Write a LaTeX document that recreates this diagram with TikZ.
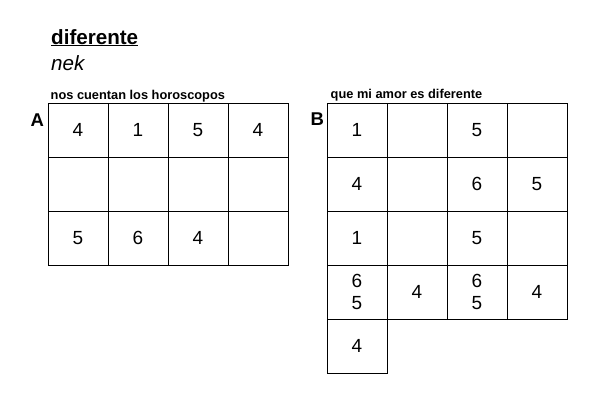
\documentclass[tikz,border=0pt]{standalone}
\usepackage{fontspec}
\setmainfont{Liberation Sans}
\begin{document}
\begin{tikzpicture}[x=1bp,y=-1bp,
  cell/.style={draw,line width=1bp,minimum width=60bp,minimum height=54bp,inner sep=0pt,
    font=\fontsize{19bp}{21.7bp}\selectfont,align=center},
  lbl/.style={anchor=base west,inner sep=0pt,font=\fontsize{12.8bp}{14bp}\selectfont\bfseries},
  big/.style={anchor=base west,inner sep=0pt,font=\fontsize{18.5bp}{20bp}\selectfont\bfseries}]
\useasboundingbox (0,0) rectangle (612,409);
\node[anchor=base west,inner sep=0pt,font=\fontsize{20.6bp}{24bp}\selectfont\bfseries] (title) at (51,44) {\underline{diferente}};
\node[anchor=base west,inner sep=0pt,font=\fontsize{20.6bp}{24bp}\selectfont\itshape] (artist) at (51,70) {nek};
\node[lbl] (la) at (50.5,99) {nos cuentan los horoscopos};
\node[lbl] (lb) at (330.5,98.5) {que mi amor es diferente};
\node[big] (A) at (30.5,126) {A};
\node[big] (B) at (310.5,125.5) {B};
% grid A
\node[cell] (a11) at (78,130) {4};
\node[cell] (a12) at (138,130) {1};
\node[cell] (a13) at (198,130) {5};
\node[cell] (a14) at (258,130) {4};
\node[cell] (a21) at (78,184) {};
\node[cell] (a22) at (138,184) {};
\node[cell] (a23) at (198,184) {};
\node[cell] (a24) at (258,184) {};
\node[cell] (a31) at (78,238) {5};
\node[cell] (a32) at (138,238) {6};
\node[cell] (a33) at (198,238) {4};
\node[cell] (a34) at (258,238) {};
% grid B
\node[cell] (b11) at (357,130) {1};
\node[cell] (b12) at (417,130) {};
\node[cell] (b13) at (477,130) {5};
\node[cell] (b14) at (537,130) {};
\node[cell] (b21) at (357,184) {4};
\node[cell] (b22) at (417,184) {};
\node[cell] (b23) at (477,184) {6};
\node[cell] (b24) at (537,184) {5};
\node[cell] (b31) at (357,238) {1};
\node[cell] (b32) at (417,238) {};
\node[cell] (b33) at (477,238) {5};
\node[cell] (b34) at (537,238) {};
\node[cell] (b41) at (357,292) {6\\5};
\node[cell] (b42) at (417,292) {4};
\node[cell] (b43) at (477,292) {6\\5};
\node[cell] (b44) at (537,292) {4};
\node[cell] (b51) at (357,346) {4};
\end{tikzpicture}
\end{document}
